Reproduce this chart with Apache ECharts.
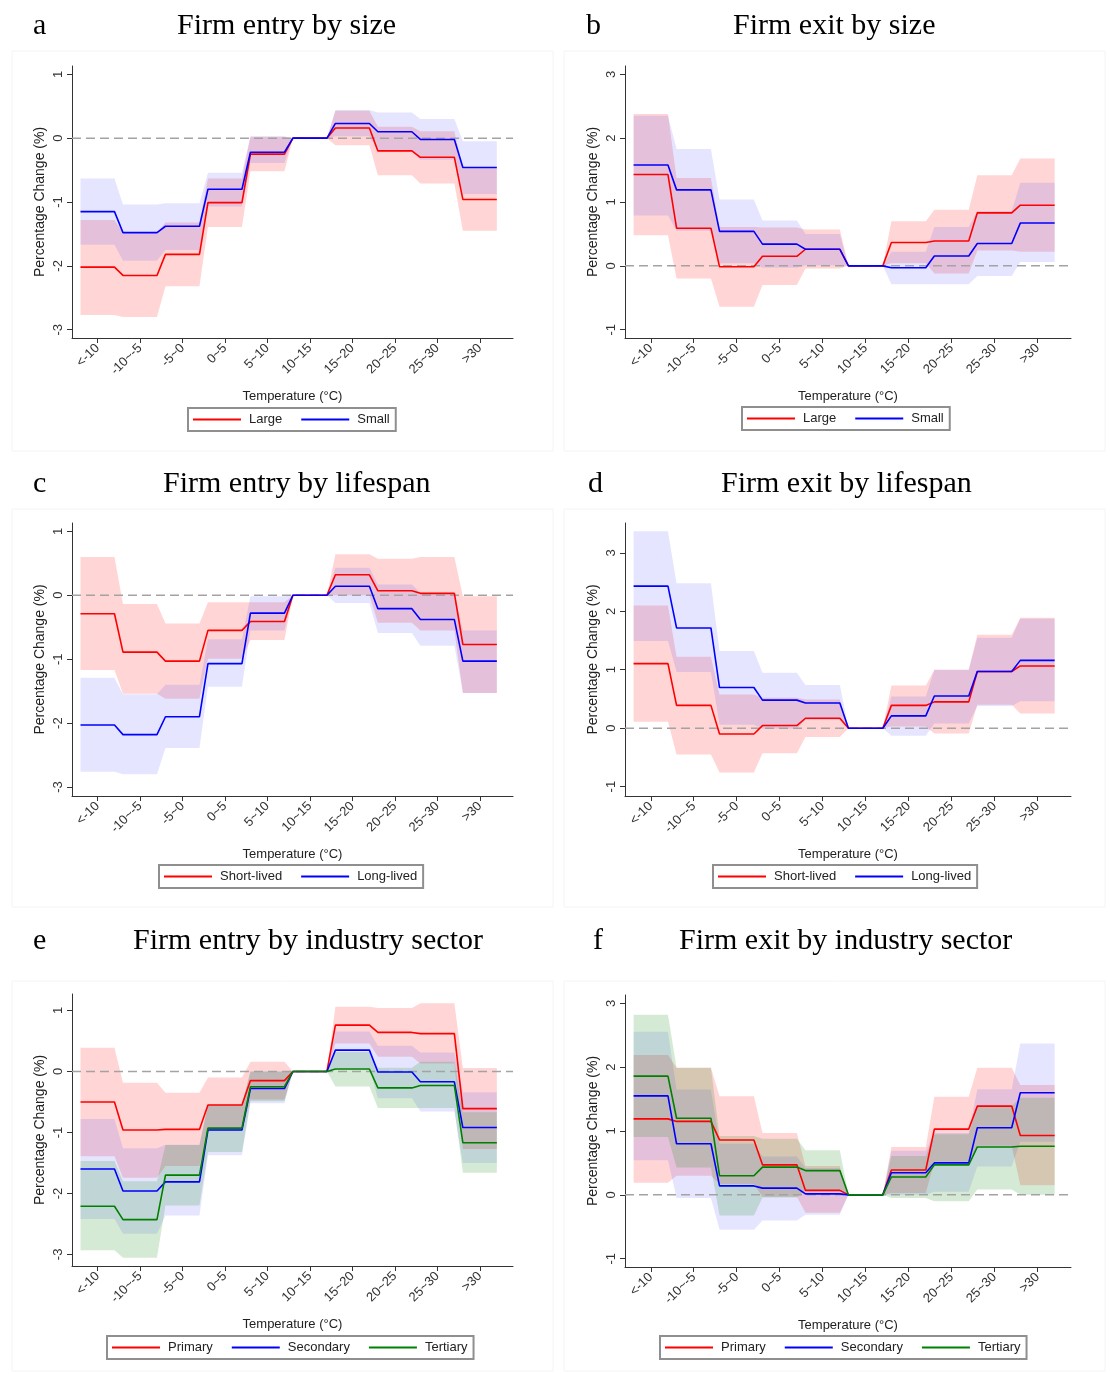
<!DOCTYPE html>
<html>
<head>
<meta charset="utf-8">
<title>Firm entry and exit by temperature</title>
<script src="https://cdn.jsdelivr.net/npm/echarts@6/dist/echarts.min.js"></script>
<style>
body { margin: 0; background: #fff; }
#wrap { position: relative; width: 1110px; height: 1374px; }
.panel { position: absolute; width: 555px; }
</style>
</head>
<body>
<div id="wrap">
	<div id="chartA" class="panel" style="left:0;top:0;height:455px"></div>
	<div id="chartB" class="panel" style="left:555px;top:0;height:455px"></div>
	<div id="chartC" class="panel" style="left:0;top:455px;height:455px"></div>
	<div id="chartD" class="panel" style="left:555px;top:455px;height:455px"></div>
	<div id="chartE" class="panel" style="left:0;top:910px;height:464px"></div>
	<div id="chartF" class="panel" style="left:555px;top:910px;height:464px"></div>
</div>
<script>
var categories = ['<-10', '-10~-5', '-5~0', '0~5', '5~10', '10~15', '15~20', '20~25', '25~30', '>30'];
var catTicks = [0, 1, 2, 3, 4, 5, 6, 7, 8, 9];
var yTicksEntry = [-3, -2, -1, 0, 1];
var yTicksExit = [-1, 0, 1, 2, 3];

// a: entry by size
var aLarge   = [-2.02, -2.15, -1.82, -1.01, -0.25, 0, 0.16, -0.20, -0.30, -0.96];
var aLargeLo = [-2.77, -2.80, -2.32, -1.39, -0.52, 0, -0.11, -0.58, -0.71, -1.45];
var aLargeHi = [-1.28, -1.48, -1.32, -0.63, 0.02, 0, 0.43, 0.18, 0.11, -0.47];
var aSmall   = [-1.15, -1.48, -1.38, -0.80, -0.22, 0, 0.23, 0.10, -0.02, -0.46];
var aSmallLo = [-1.67, -1.92, -1.75, -1.07, -0.39, 0, 0.03, -0.20, -0.34, -0.875];
var aSmallHi = [-0.63, -1.04, -1.02, -0.54, 0.03, 0, 0.44, 0.40, 0.30, -0.05];

// b: exit by size
var bLarge   = [1.43, 0.59, -0.015, 0.15, 0.26, 0, 0.365, 0.39, 0.83, 0.95];
var bLargeLo = [0.48, -0.20, -0.64, -0.30, -0.04, 0, 0.04, -0.12, 0.24, 0.22];
var bLargeHi = [2.38, 1.375, 0.61, 0.60, 0.57, 0, 0.70, 0.88, 1.42, 1.68];
var bSmall   = [1.58, 1.19, 0.54, 0.34, 0.26, 0, -0.03, 0.155, 0.35, 0.67];
var bSmallLo = [0.79, 0.55, 0.04, -0.03, 0.01, 0, -0.29, -0.29, -0.16, 0.06];
var bSmallHi = [2.35, 1.83, 1.04, 0.71, 0.50, 0, 0.22, 0.61, 0.86, 1.30];

// c: entry by lifespan
var cShort   = [-0.29, -0.89, -1.03, -0.55, -0.41, 0, 0.32, 0.07, 0.03, -0.77];
var cShortLo = [-1.17, -1.54, -1.62, -0.995, -0.70, 0, 0.0, -0.43, -0.55, -1.53];
var cShortHi = [0.60, -0.135, -0.44, -0.11, -0.11, 0, 0.64, 0.57, 0.60, -0.015];
var cLong    = [-2.03, -2.18, -1.90, -1.07, -0.28, 0, 0.14, -0.21, -0.38, -1.03];
var cLongLo  = [-2.76, -2.80, -2.39, -1.43, -0.55, 0, -0.12, -0.59, -0.79, -1.53];
var cLongHi  = [-1.29, -1.55, -1.40, -0.69, -0.015, 0, 0.43, 0.17, 0.04, -0.55];

// d: exit by lifespan
var dShort   = [1.105, 0.39, -0.10, 0.045, 0.17, 0, 0.39, 0.45, 0.97, 1.065];
var dShortLo = [0.11, -0.45, -0.76, -0.43, -0.15, 0, 0.03, -0.09, 0.40, 0.25];
var dShortHi = [2.10, 1.22, 0.575, 0.52, 0.49, 0, 0.73, 1.0, 1.60, 1.89];
var dLong    = [2.43, 1.715, 0.695, 0.48, 0.43, 0, 0.21, 0.55, 0.97, 1.16];
var dLongLo  = [1.49, 0.96, 0.06, -0.01, 0.14, 0, -0.13, 0.08, 0.38, 0.46];
var dLongHi  = [3.37, 2.48, 1.32, 0.95, 0.74, 0, 0.54, 1.0, 1.545, 1.87];

// e: entry by industry sector
var ePrimary     = [-0.50, -0.96, -0.95, -0.55, -0.15, 0, 0.76, 0.64, 0.62, -0.61];
var ePrimaryLo   = [-1.39, -1.745, -1.55, -0.97, -0.46, 0, 0.46, 0.24, 0.13, -1.27];
var ePrimaryHi   = [0.39, -0.185, -0.35, -0.10, 0.16, 0, 1.06, 1.04, 1.12, 0.055];
var eSecondary   = [-1.60, -1.96, -1.81, -0.96, -0.28, 0, 0.35, -0.01, -0.17, -0.92];
var eSecondaryLo = [-2.42, -2.66, -2.36, -1.375, -0.52, 0, 0.05, -0.44, -0.655, -1.50];
var eSecondaryHi = [-0.78, -1.26, -1.20, -0.55, 0.0, 0, 0.655, 0.42, 0.31, -0.34];
var eTertiary    = [-2.21, -2.43, -1.70, -0.93, -0.25, 0, 0.04, -0.27, -0.23, -1.17];
var eTertiaryLo  = [-2.93, -3.055, -2.20, -1.32, -0.49, 0, -0.245, -0.60, -0.60, -1.66];
var eTertiaryHi  = [-1.47, -1.80, -1.205, -0.54, 0.0, 0, 0.32, 0.06, 0.16, -0.67];

// f: exit by industry sector
var fPrimary     = [1.19, 1.15, 0.86, 0.47, 0.07, 0, 0.39, 1.03, 1.39, 0.93];
var fPrimaryLo   = [0.19, 0.30, 0.17, -0.03, -0.28, 0, 0.03, 0.52, 0.77, 0.15];
var fPrimaryHi   = [2.19, 1.99, 1.545, 0.97, 0.45, 0, 0.75, 1.535, 1.99, 1.72];
var fSecondary   = [1.55, 0.80, 0.14, 0.105, 0.015, 0, 0.345, 0.50, 1.05, 1.60];
var fSecondaryLo = [0.54, -0.05, -0.545, -0.40, -0.31, 0, 0.0, 0.05, 0.445, 0.83];
var fSecondaryHi = [2.555, 1.65, 0.80, 0.60, 0.42, 0, 0.69, 0.97, 1.655, 2.37];
var fTertiary    = [1.86, 1.20, 0.30, 0.435, 0.38, 0, 0.28, 0.47, 0.75, 0.76];
var fTertiaryLo  = [0.905, 0.43, -0.325, -0.04, 0.07, 0, -0.05, -0.10, 0.085, 0.0];
var fTertiaryHi  = [2.82, 1.99, 0.92, 0.88, 0.70, 0, 0.61, 0.95, 1.39, 1.52];

var lineColors = ['#ff0000', '#0000ff', '#008000'];
var bandColors = ['rgba(255,0,0,0.165)', 'rgba(0,0,255,0.1)', 'rgba(0,128,0,0.165)'];
var xMin = -0.6, xMax = 9.78;

// each category is a flat step from i-0.4 to i+0.4
function steps(vals) {
	var pts = [];
	for (var i = 0; i < vals.length; i++) {
		pts.push([i - 0.4, vals[i]]);
		pts.push([i + 0.4, vals[i]]);
	}
	return pts;
}

// one polygon per confidence band: upper edge left to right, lower edge back
function bandSeries(name, hi, lo, color) {
	var outline = steps(hi).concat(steps(lo).reverse());
	return {
		name : name,
		type : 'custom',
		silent : true,
		data : [[0, 0]],
		renderItem : function(params, api) {
			var pts = [];
			for (var i = 0; i < outline.length; i++) {
				pts.push(api.coord(outline[i]));
			}
			return {
				type : 'polygon',
				shape : { points : pts },
				style : { fill : color }
			};
		}
	};
}

function drawChart(ele, p) {
	var myChart = echarts.init(document.getElementById(ele));
	var series = [];
	var k;
	for (k = 0; k < p.names.length; k++) {
		series.push(bandSeries(p.names[k] + ' ci', p.hi[k], p.lo[k], bandColors[k]));
	}
	series.push({
		name : 'zero',
		type : 'line',
		symbol : 'none',
		silent : true,
		lineStyle : { color : '#a3a3a3', width : 1.5, type : [9, 5] },
		data : [[xMin, 0], [xMax, 0]]
	});
	for (k = 0; k < p.names.length; k++) {
		series.push({
			name : p.names[k],
			type : 'line',
			symbol : 'none',
			color : lineColors[k],
			lineStyle : { color : lineColors[k], width : 1.6 },
			data : steps(p.values[k])
		});
	}

	var option = {
		animation : false,
		title : [ {
			text : p.letter,
			left : p.letterLeft,
			top : p.titleTop,
			textStyle : { fontFamily : 'Liberation Serif', fontSize : 30, fontWeight : 'normal', color : '#000' }
		}, {
			text : p.title,
			left : p.titleLeft,
			top : p.titleTop,
			textStyle : { fontFamily : 'Liberation Serif', fontSize : 30, fontWeight : 'normal', color : '#000' }
		} ],
		graphic : [ {
			type : 'rect',
			silent : true,
			shape : p.frame,
			style : { fill : 'none', stroke : '#f4f4f4', lineWidth : 1 }
		} ],
		grid : p.grid,
		legend : {
			data : p.names,
			left : p.legendLeft,
			top : p.legendTop,
			icon : 'rect',
			itemWidth : 48,
			itemHeight : 2,
			itemGap : 19,
			padding : [5, 6, 5, 5],
			borderColor : '#8f8f8f',
			borderWidth : 2,
			selectedMode : false,
			textStyle : { fontFamily : 'Liberation Sans', fontSize : 13, color : '#222', padding : [0, 0, 0, 3] }
		},
		xAxis : {
			type : 'value',
			min : xMin,
			max : xMax,
			name : 'Temperature (°C)',
			nameLocation : 'middle',
			nameGap : 52,
			nameTextStyle : { fontFamily : 'Liberation Sans', fontSize : 13, color : '#222' },
			axisLine : { onZero : false, lineStyle : { color : '#333', width : 1 } },
			axisTick : { customValues : catTicks, length : 5, lineStyle : { color : '#333' } },
			axisLabel : {
				customValues : catTicks,
				rotate : 45,
				margin : 8,
				fontFamily : 'Liberation Sans',
				fontSize : 13,
				color : '#333',
				formatter : function(v) {
					return categories[Math.round(v)];
				}
			},
			splitLine : { show : false }
		},
		yAxis : {
			type : 'value',
			min : p.yMin,
			max : p.yMax,
			name : 'Percentage Change (%)',
			nameLocation : 'middle',
			nameGap : 25,
			nameMoveOverlap : false,
			nameTextStyle : { fontFamily : 'Liberation Sans', fontSize : 14, color : '#222' },
			axisLine : { show : true, onZero : false, lineStyle : { color : '#333', width : 1 } },
			axisTick : { show : true, customValues : p.yTicks, length : 5, lineStyle : { color : '#333' } },
			axisLabel : {
				customValues : p.yTicks,
				rotate : 90,
				margin : 7,
				fontFamily : 'Liberation Sans',
				fontSize : 13,
				color : '#333'
			},
			splitLine : { show : false }
		},
		series : series
	};
	myChart.setOption(option);
}

drawChart('chartA', {
	letter : 'a', letterLeft : 28, title : 'Firm entry by size', titleLeft : 172, titleTop : 6,
	frame : { x : 12, y : 51, width : 541, height : 400 },
	grid : { left : 72, top : 66, width : 441, height : 272 },
	yMin : -3.13, yMax : 1.13, yTicks : yTicksEntry,
	legendLeft : 188, legendTop : 408,
	names : ['Large', 'Small'],
	values : [aLarge, aSmall], lo : [aLargeLo, aSmallLo], hi : [aLargeHi, aSmallHi]
});
drawChart('chartB', {
	letter : 'b', letterLeft : 26, title : 'Firm exit by size', titleLeft : 173, titleTop : 6,
	frame : { x : 9, y : 51, width : 541, height : 400 },
	grid : { left : 70, top : 66, width : 446, height : 272 },
	yMin : -1.13, yMax : 3.13, yTicks : yTicksExit,
	legendLeft : 187, legendTop : 407,
	names : ['Large', 'Small'],
	values : [bLarge, bSmall], lo : [bLargeLo, bSmallLo], hi : [bLargeHi, bSmallHi]
});
drawChart('chartC', {
	letter : 'c', letterLeft : 28, title : 'Firm entry by lifespan', titleLeft : 158, titleTop : 9,
	frame : { x : 12, y : 54, width : 541, height : 398 },
	grid : { left : 72, top : 68, width : 441, height : 273 },
	yMin : -3.14, yMax : 1.13, yTicks : yTicksEntry,
	legendLeft : 159, legendTop : 410,
	names : ['Short-lived', 'Long-lived'],
	values : [cShort, cLong], lo : [cShortLo, cLongLo], hi : [cShortHi, cLongHi]
});
drawChart('chartD', {
	letter : 'd', letterLeft : 28, title : 'Firm exit by lifespan', titleLeft : 161, titleTop : 9,
	frame : { x : 9, y : 54, width : 541, height : 398 },
	grid : { left : 70, top : 68, width : 446, height : 273 },
	yMin : -1.16, yMax : 3.51, yTicks : yTicksExit,
	legendLeft : 158, legendTop : 410,
	names : ['Short-lived', 'Long-lived'],
	values : [dShort, dLong], lo : [dShortLo, dLongLo], hi : [dShortHi, dLongHi]
});
drawChart('chartE', {
	letter : 'e', letterLeft : 28, title : 'Firm entry by industry sector', titleLeft : 128, titleTop : 11,
	frame : { x : 12, y : 71, width : 541, height : 390 },
	grid : { left : 72, top : 84, width : 441, height : 272 },
	yMin : -3.19, yMax : 1.27, yTicks : yTicksEntry,
	legendLeft : 107, legendTop : 426,
	names : ['Primary', 'Secondary', 'Tertiary'],
	values : [ePrimary, eSecondary, eTertiary],
	lo : [ePrimaryLo, eSecondaryLo, eTertiaryLo],
	hi : [ePrimaryHi, eSecondaryHi, eTertiaryHi]
});
drawChart('chartF', {
	letter : 'f', letterLeft : 33, title : 'Firm exit by industry sector', titleLeft : 119, titleTop : 11,
	frame : { x : 9, y : 71, width : 541, height : 390 },
	grid : { left : 70, top : 85, width : 446, height : 272 },
	yMin : -1.13, yMax : 3.13, yTicks : yTicksExit,
	legendLeft : 105, legendTop : 426,
	names : ['Primary', 'Secondary', 'Tertiary'],
	values : [fPrimary, fSecondary, fTertiary],
	lo : [fPrimaryLo, fSecondaryLo, fTertiaryLo],
	hi : [fPrimaryHi, fSecondaryHi, fTertiaryHi]
});
</script>
</body>
</html>
